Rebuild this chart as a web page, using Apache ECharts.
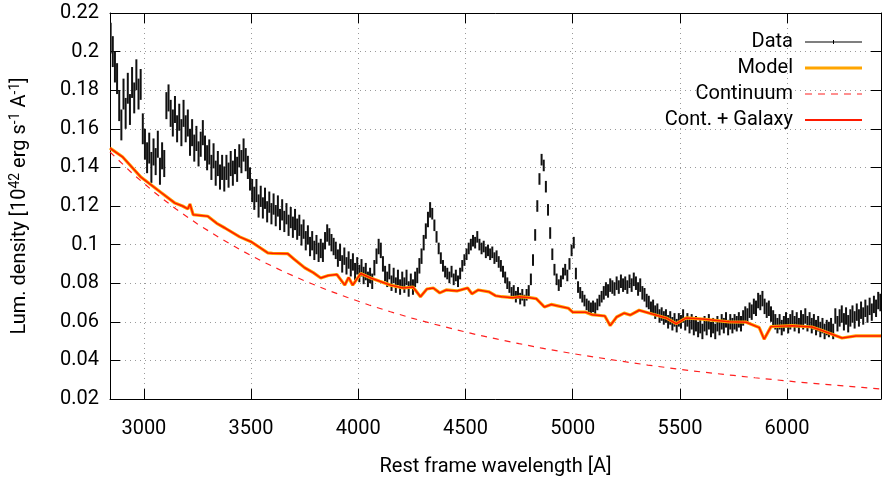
<!DOCTYPE html>
<html>
<head>
  <meta charset="utf-8" />
  <title>Spectrum fit</title>
  <script src="https://cdn.jsdelivr.net/npm/echarts@6.0.0/dist/echarts.min.js"></script>
  <style>
    body { margin: 0; padding: 0; overflow: hidden; background: #fff; }
  </style>
</head>
<body>
  <div id="main" style="width: 882px; height: 478px;"></div>
  <script type="text/javascript">
    // observed spectrum, one point every 10 A starting at 2845 A
    const dataStart = 2845;
    const dataStep = 10;
    const flux = [
      0.207,0.200,0.192,0.186,0.172,0.162,0.178,0.168,0.181,0.170, // 2845
      0.184,0.176,0.188,0.178,0.183,0.160,0.152,0.145,0.150,0.140, // 2945
      0.148,0.143,0.152,0.138,0.146,0.142,0.172,0.176,0.168,0.163, // 3045
      0.170,0.160,0.166,0.158,0.168,0.160,0.163,0.153,0.158,0.150, // 3145
      0.155,0.147,0.152,0.158,0.150,0.145,0.148,0.140,0.146,0.137, // 3245
      0.142,0.135,0.140,0.134,0.140,0.136,0.142,0.137,0.143,0.139, // 3345
      0.146,0.143,0.149,0.144,0.140,0.134,0.128,0.124,0.128,0.120, // 3445
      0.125,0.119,0.124,0.117,0.122,0.116,0.121,0.115,0.120,0.113, // 3545
      0.118,0.112,0.116,0.110,0.114,0.109,0.113,0.108,0.110,0.105, // 3645
      0.108,0.102,0.105,0.099,0.102,0.097,0.100,0.096,0.098,0.096, // 3745
      0.102,0.106,0.104,0.101,0.099,0.097,0.093,0.096,0.090,0.094, // 3845
      0.089,0.092,0.088,0.091,0.086,0.089,0.085,0.088,0.084,0.086, // 3945
      0.082,0.084,0.081,0.088,0.094,0.099,0.097,0.090,0.085,0.082, // 4045
      0.086,0.080,0.084,0.079,0.083,0.078,0.082,0.079,0.083,0.077, // 4145
      0.081,0.078,0.082,0.084,0.089,0.094,0.101,0.107,0.113,0.118, // 4245
      0.116,0.110,0.104,0.098,0.093,0.089,0.086,0.085,0.083,0.086, // 4345
      0.082,0.084,0.081,0.085,0.089,0.092,0.095,0.098,0.100,0.102, // 4445
      0.101,0.104,0.100,0.098,0.099,0.096,0.097,0.095,0.096,0.093, // 4545
      0.094,0.091,0.089,0.086,0.083,0.080,0.078,0.075,0.076,0.073, // 4645
      0.075,0.072,0.074,0.071,0.074,0.076,0.082,0.092,0.105,0.120, // 4745
      0.134,0.144,0.141,0.130,0.118,0.106,0.095,0.087,0.082,0.079, // 4845
      0.081,0.085,0.087,0.084,0.090,0.097,0.101,0.085,0.078,0.075, // 4945
      0.073,0.071,0.069,0.068,0.067,0.068,0.067,0.069,0.071,0.073, // 5045
      0.075,0.077,0.076,0.079,0.078,0.077,0.080,0.078,0.081,0.079, // 5145
      0.080,0.078,0.081,0.079,0.082,0.080,0.077,0.079,0.075,0.074, // 5245
      0.071,0.070,0.067,0.068,0.065,0.066,0.063,0.064,0.062,0.063, // 5345
      0.060,0.062,0.059,0.061,0.058,0.061,0.060,0.063,0.059,0.061, // 5445
      0.058,0.060,0.057,0.059,0.056,0.058,0.055,0.059,0.057,0.060, // 5545
      0.056,0.058,0.055,0.059,0.057,0.060,0.058,0.061,0.057,0.060, // 5645
      0.058,0.060,0.059,0.061,0.059,0.062,0.064,0.063,0.066,0.065, // 5745
      0.068,0.067,0.071,0.070,0.072,0.068,0.066,0.067,0.064,0.062, // 5845
      0.060,0.058,0.060,0.057,0.059,0.061,0.058,0.060,0.062,0.059, // 5945
      0.061,0.058,0.062,0.060,0.063,0.059,0.061,0.058,0.060,0.057, // 6045
      0.059,0.056,0.058,0.055,0.057,0.056,0.058,0.055,0.063,0.059, // 6145
      0.062,0.064,0.060,0.063,0.059,0.062,0.064,0.061,0.065,0.062, // 6245
      0.066,0.063,0.067,0.064,0.068,0.065,0.069,0.067,0.071,0.070  // 6345
    ];
    // error of the flux, one value per 100 A block
    const fluxErr = [
      0.008,0.008,0.007,0.007,0.0065,0.0065,0.006,0.0055,0.0055,0.005,
      0.0045,0.0045,0.004,0.004,0.004,0.003,0.003,0.003,0.003,0.003,
      0.003,0.003,0.003,0.0035,0.0035,0.0035,0.0035,0.004,0.004,0.004,
      0.004,0.004,0.004,0.004,0.0045,0.0045
    ];

    // model = continuum + host galaxy
    const galWave = [2842,2900,2986,3080,3145,3180,3205,3215,3230,3298,3340,3378,3447,3500,3578,
      3600,3671,3700,3750,3790,3825,3860,3900,3937,3955,3974,4011,4058,4100,4150,4210,4255,4290,
      4320,4350,4380,4410,4460,4510,4530,4560,4610,4640,4670,4720,4750,4800,4830,4868,4900,4940,
      4980,5000,5060,5090,5150,5175,5205,5240,5268,5310,5371,5436,5483,5530,5604,5730,5809,5870,
      5893,5925,6023,6116,6163,6256,6321,6438];
    const galFlux = [0.150,0.1455,0.135,0.127,0.1215,0.120,0.1185,0.121,0.1155,0.1147,0.111,0.1086,
      0.104,0.1015,0.0957,0.0955,0.0953,0.0925,0.088,0.0855,0.0827,0.084,0.0845,0.079,0.083,0.079,
      0.085,0.0827,0.081,0.079,0.0775,0.078,0.073,0.077,0.0775,0.075,0.0765,0.076,0.0775,0.0745,
      0.0765,0.0755,0.0735,0.073,0.0725,0.073,0.0725,0.072,0.0677,0.069,0.068,0.067,0.065,0.065,
      0.0637,0.063,0.058,0.0625,0.0645,0.0635,0.066,0.064,0.062,0.059,0.062,0.0614,0.060,0.0598,
      0.057,0.051,0.0575,0.058,0.0573,0.0555,0.0516,0.0527,0.0527];
    const modelFlux = galFlux;

    // power-law continuum
    const contWave = [2842,2950,3050,3150,3250,3350,3450,3550,3650,3750,3850,3950,4050,4150,4250,
      4350,4450,4550,4650,4750,4850,4950,5050,5150,5250,5350,5450,5550,5650,5750,5850,5950,6050,
      6150,6250,6350,6438];
    const contFlux = [0.1480,0.1365,0.1270,0.1184,0.1107,0.1037,0.0973,0.0914,0.0861,0.0812,0.0767,
      0.0726,0.0687,0.0652,0.0619,0.0589,0.0561,0.0534,0.0510,0.0487,0.0465,0.0445,0.0426,0.0409,
      0.0392,0.0376,0.0361,0.0347,0.0334,0.0322,0.0310,0.0299,0.0288,0.0278,0.0269,0.0260,0.0252];

    const xMin = 2842, xMax = 6438;
    const yMin = 0.02, yMax = 0.22, yStep = 0.02;

    const font = 'Roboto';
    const fs = 20;
    const myChart = echarts.init(document.getElementById('main'));

    const dataPoints = flux.map((f, i) => [dataStart + i * dataStep, f, fluxErr[Math.floor(i / 10)]]);
    const pairs = (xs, ys) => xs.map((x, i) => [x, ys[i]]);

    const frame = { show: true, lineStyle: { color: '#000', width: 1 } };
    const grid = { show: true, lineStyle: { color: '#9a9a9a', width: 1, type: [1, 4] } };

    // legend samples, drawn as paths (first and last tiny squares fix the box to 57x14)
    const box = 'M0,0h0.01v0.01h-0.01z M0,13.99h0.01v0.01h-0.01z ';
    const icons = {
      data: 'path://' + box + 'M0,6.5h57v1h-57z M28,5h1v4h-1z',
      model: 'path://' + box + 'M0,5.5h57v3h-57z',
      cont: 'path://' + box + 'M0,6.4h7v1.2h-7z M13,6.4h7v1.2h-7z M26,6.4h7v1.2h-7z M39,6.4h7v1.2h-7z M52,6.4h5v1.2h-5z',
      gal: 'path://' + box + 'M0,6h57v2h-57z'
    };

    const option = {
      animation: false,
      grid: { left: 110, right: 1, top: 13, bottom: 79, outerBoundsMode: 'none', containLabel: false },
      legend: {
        orient: 'vertical',
        align: 'right',
        right: 15,
        top: 27,
        itemWidth: 57,
        itemHeight: 14,
        itemGap: 6,
        selectedMode: false,
        textStyle: { fontFamily: font, fontSize: fs, color: '#000', padding: [0, 7, 0, 0] },
        data: [
          { name: 'Data', icon: icons.data },
          { name: 'Model', icon: icons.model },
          { name: 'Continuum', icon: icons.cont },
          { name: 'Cont. + Galaxy', icon: icons.gal }
        ]
      },
      xAxis: [{
        type: 'value', min: xMin, max: xMax, splitNumber: 7,
        name: 'Rest frame wavelength [A]', nameLocation: 'middle', nameGap: 58,
        nameTextStyle: { fontFamily: font, fontSize: fs, color: '#000' },
        axisLine: frame,
        axisTick: { inside: true, length: 10, lineStyle: { color: '#000' } },
        axisLabel: {
          fontFamily: font, fontSize: fs, color: '#000', margin: 20,
          showMinLabel: false, showMaxLabel: false,
          formatter: v => String(v)
        },
        splitLine: grid
      }, {
        type: 'value', min: xMin, max: xMax, splitNumber: 7, position: 'top',
        axisLine: frame,
        axisTick: { inside: true, length: 10, lineStyle: { color: '#000' } },
        axisLabel: { show: false },
        splitLine: { show: false }
      }],
      yAxis: [{
        type: 'value', min: yMin, max: yMax, interval: yStep,
        name: '{n|Lum. density [10}{s|42}{n| erg s}{s|-1}{n| A}{s|-1}{n|]}',
        nameLocation: 'middle', nameGap: 78, nameRotate: 90,
        nameTextStyle: {
          color: '#000',
          rich: {
            n: { fontFamily: font, fontSize: fs, color: '#000' },
            s: { fontFamily: font, fontSize: 14, color: '#000', padding: [0, 0, 10, 0] }
          }
        },
        axisLine: frame,
        axisTick: { inside: true, length: 10, lineStyle: { color: '#000' } },
        axisLabel: { fontFamily: font, fontSize: fs, color: '#000', margin: 11 },
        splitLine: grid
      }, {
        type: 'value', min: yMin, max: yMax, interval: yStep, position: 'right',
        axisLine: frame,
        axisTick: { inside: true, length: 10, lineStyle: { color: '#000' } },
        axisLabel: { show: false },
        splitLine: { show: false }
      }],
      series: [
        {
          name: 'Data',
          type: 'custom',
          clip: true,
          itemStyle: { color: '#000' },
          encode: { x: 0, y: 1 },
          data: dataPoints,
          renderItem(params, api) {
            const x = api.value(0), y = api.value(1), e = api.value(2);
            const p1 = api.coord([x, y - e]);
            const p2 = api.coord([x, y + e]);
            return {
              type: 'line',
              shape: { x1: p1[0], y1: p1[1], x2: p2[0], y2: p2[1] },
              style: { stroke: '#111', lineWidth: 2 }
            };
          }
        },
        {
          name: 'Model',
          type: 'line',
          symbol: 'none',
          data: pairs(galWave, modelFlux),
          itemStyle: { color: '#ffa500' },
          lineStyle: { color: '#ffa500', width: 3.2 }
        },
        {
          name: 'Continuum',
          type: 'line',
          symbol: 'none',
          data: pairs(contWave, contFlux),
          itemStyle: { color: '#ff2020' },
          lineStyle: { color: '#ff2020', width: 1.2, type: [6, 6] }
        },
        {
          name: 'Cont. + Galaxy',
          type: 'line',
          symbol: 'none',
          data: pairs(galWave, galFlux),
          itemStyle: { color: '#ff1a00' },
          lineStyle: { color: '#ff1a00', width: 1.5 }
        }
      ]
    };
    myChart.setOption(option);
  </script>
</body>
</html>
